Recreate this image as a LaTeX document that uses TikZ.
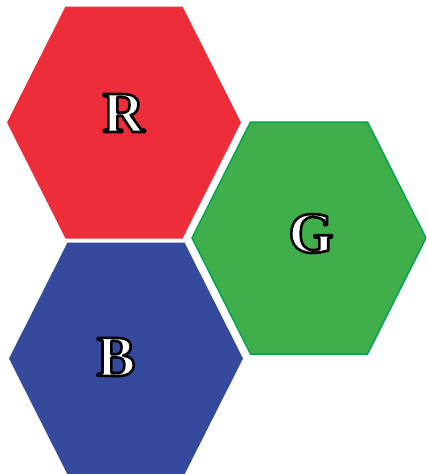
\documentclass[tikz,border=0pt]{standalone}
\usepackage{fontspec}
\setmainfont{Liberation Serif}
\definecolor{hexred}{HTML}{EE2D3A}
\definecolor{hexgreen}{HTML}{40AE4B}
\definecolor{hexgreenline}{HTML}{00A650}
\definecolor{hexblue}{HTML}{35499D}
\newcommand{\hexpath}[2]{(#1-117,#2) -- (#1-58.5,#2-116) -- (#1+58.5,#2-116) -- (#1+117,#2) -- (#1+58.5,#2+116) -- (#1-58.5,#2+116) -- cycle}
\newcommand{\outlined}[1]{\textcolor{white}{\special{pdf:literal direct 2 Tr 2.6 w 0 G 1 j}#1\special{pdf:literal direct 0 Tr}}}
\begin{document}
\begin{tikzpicture}[x=1pt,y=-1pt,
  letter/.style={inner sep=0pt, font=\fontsize{58}{58}\selectfont\bfseries}]
\useasboundingbox (0,0) rectangle (426,474);
\clip (0,0) rectangle (426,474);
\fill[hexred] \hexpath{124}{122.5};
\fill[hexgreen, draw=hexgreenline, line width=1.5pt] \hexpath{309}{238};
\fill[hexblue] \hexpath{126}{358.5};
\node[letter] (R) at (123.5,113) {\outlined{R}};
\node[letter] (G) at (311,233.5) {\outlined{G}};
\node[letter] (B) at (116,357) {\outlined{B}};
\end{tikzpicture}
\end{document}
